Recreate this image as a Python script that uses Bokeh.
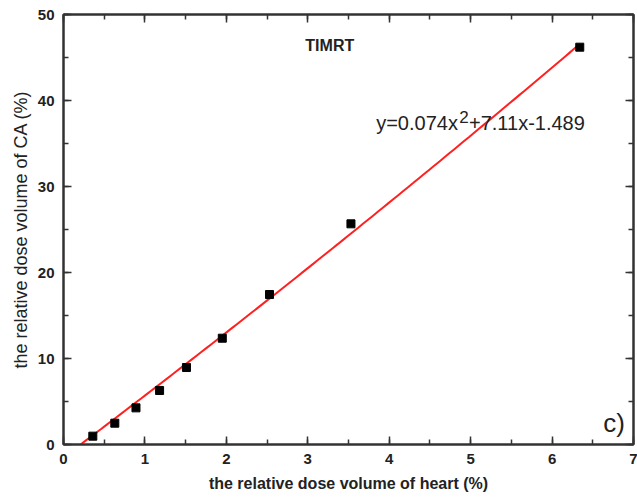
import numpy as np
from bokeh.plotting import figure
from bokeh.models import LinearAxis, SingleIntervalTicker, Range1d, Label, CustomLabelingPolicy
from bokeh.embed import file_html
from bokeh.resources import INLINE

# ---- data ----
heart_pct = [0.36, 0.63, 0.89, 1.18, 1.51, 1.95, 2.53, 3.53, 6.34]
ca_pct = [0.97, 2.48, 4.26, 6.28, 8.95, 12.36, 17.44, 25.66, 46.2]
fit_coef = [0.074, 7.11, -1.489]  # a, b, c of y = a x^2 + b x + c
fit_x_range = [0.21, 6.34]
x_ticks = [0, 1, 2, 3, 4, 5, 6, 7]
y_ticks = [0, 10, 20, 30, 40, 50]

FONT = "Liberation Sans"
AX = "#333333"
TXT = "#222222"

p = figure(width=637, height=499, output_backend="svg", toolbar_location=None,
           x_range=Range1d(x_ticks[0], x_ticks[-1]), y_range=Range1d(y_ticks[0], y_ticks[-1]),
           min_border_left=63, min_border_right=0, min_border_top=14, min_border_bottom=55)
p.grid.visible = False
p.outline_line_color = AX
p.outline_line_width = 2
p.background_fill_color = "white"
p.border_fill_color = "white"

hide_all = CustomLabelingPolicy(code="return new Set()")

def style_axis(ax, interval, show_labels):
    ax.ticker = SingleIntervalTicker(interval=interval, num_minor_ticks=2)
    ax.axis_line_color = AX
    ax.axis_line_width = 2
    ax.major_tick_line_color = AX
    ax.minor_tick_line_color = AX
    ax.major_tick_line_width = 1.5
    ax.minor_tick_line_width = 1.5
    ax.major_tick_in = 8
    ax.major_tick_out = 0
    ax.minor_tick_in = 5
    ax.minor_tick_out = 0
    if show_labels:
        ax.major_label_text_font = FONT
        ax.major_label_text_font_style = "bold"
        ax.major_label_text_font_size = "15px"
        ax.major_label_text_color = TXT
        ax.major_label_standoff = 9
    else:
        ax.major_label_policy = hide_all
        ax.major_label_text_font_size = "1px"
        ax.major_label_standoff = 0

style_axis(p.xaxis[0], 1, True)
style_axis(p.yaxis[0], 10, True)
p.xaxis[0].axis_label = "the relative dose volume of heart (%)"
p.xaxis[0].axis_label_text_font = FONT
p.xaxis[0].axis_label_text_font_style = "bold"
p.xaxis[0].axis_label_text_font_size = "16px"
p.xaxis[0].axis_label_text_color = TXT
p.xaxis[0].axis_label_standoff = 8
p.yaxis[0].axis_label = "the relative dose volume of CA (%)"
p.yaxis[0].axis_label_text_font = FONT
p.yaxis[0].axis_label_text_font_style = "normal"
p.yaxis[0].axis_label_text_font_size = "18px"
p.yaxis[0].axis_label_text_color = TXT
p.yaxis[0].axis_label_standoff = 4

top_ax = LinearAxis()
right_ax = LinearAxis()
style_axis(top_ax, 1, False)
style_axis(right_ax, 10, False)
p.add_layout(top_ax, "above")
p.add_layout(right_ax, "right")

# fitted curve
a, b, c = fit_coef
fx = np.linspace(fit_x_range[0], fit_x_range[1], 100)
fy = a * fx ** 2 + b * fx + c
p.line(fx, fy, line_color="#ff2020", line_width=2)

# data points
p.scatter(heart_pct, ca_pct, marker="square", size=8, color="black")

# annotations
p.add_layout(Label(x=2.97, y=45.35, text="TIMRT", text_font=FONT, text_font_style="bold",
                   text_font_size="16px", text_color=TXT))
p.add_layout(Label(x=3.84, y=36.16, text="y=0.074x", text_font=FONT,
                   text_font_size="20px", text_color=TXT))
p.add_layout(Label(x=4.86, y=37.44, text="2", text_font=FONT,
                   text_font_size="17px", text_color=TXT))
p.add_layout(Label(x=4.98, y=36.16, text="+7.11x-1.489", text_font=FONT,
                   text_font_size="20px", text_color=TXT))
p.add_layout(Label(x=6.63, y=0.81, text="c)", text_font=FONT,
                   text_font_size="26px", text_color=TXT))

open("out.html", "w").write(file_html(p, INLINE))
